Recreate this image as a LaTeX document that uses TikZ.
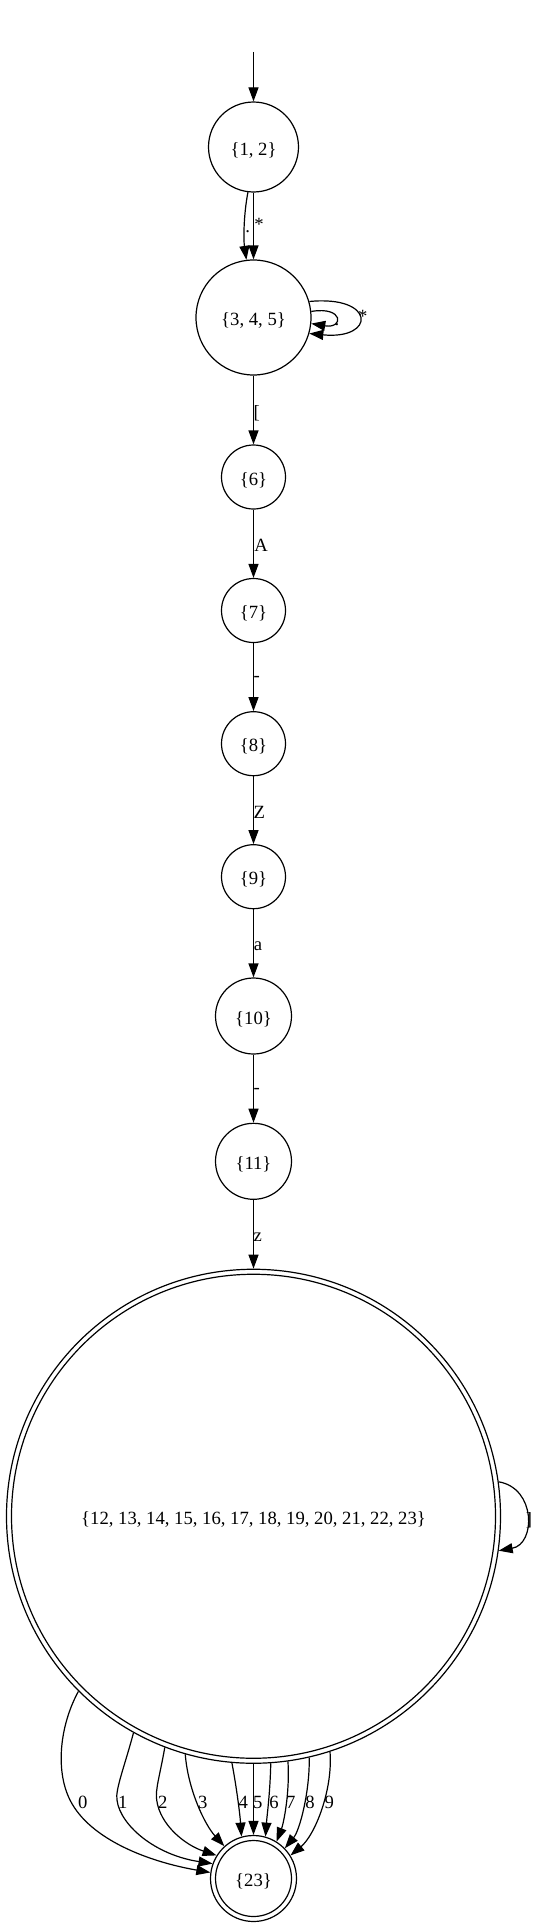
\documentclass[tikz,border=0pt]{standalone}
\usepackage{fontspec}
\setmainfont{Liberation Serif}
\usetikzlibrary{arrows.meta}
\begin{document}
\begin{tikzpicture}[x=0.75pt, y=-0.75pt, line width=0.9pt,
  state/.style={circle, draw, inner sep=0pt, text height=12pt, text depth=0pt, font=\fontsize{14}{16}\selectfont},
  accept/.style={state, path picture={\draw[line width=0.9pt] (path picture bounding box.center) circle[radius=#1];}},
  lbl/.style={inner sep=0pt, font=\fontsize{14}{16}\selectfont},
  >={Triangle[length=10.5pt, width=7.5pt]}]
\useasboundingbox (0,0) rectangle (537,1927);

% nodes
\coordinate (start) at (253.5,52);
\node[state, minimum size=67.5pt] (n12) at (253.5,147) {\{1, 2\}};
\node[state, minimum size=86.25pt] (n345) at (253.5,317.5) {\{3, 4, 5\}};
\node[state, minimum size=48pt] (n6) at (253.5,477) {\{6\}};
\node[state, minimum size=48pt] (n7) at (253.5,610.5) {\{7\}};
\node[state, minimum size=48pt] (n8) at (253.5,743.7) {\{8\}};
\node[state, minimum size=48pt] (n9) at (253.5,876.7) {\{9\}};
\node[state, minimum size=57pt] (n10) at (253.5,1016) {\{10\}};
\node[state, minimum size=57pt] (n11) at (253.5,1161.3) {\{11\}};
\node[accept=181.5pt, minimum size=370.5pt] (big) at (253.5,1516.25) {\{12, 13, 14, 15, 16, 17, 18, 19, 20, 21, 22, 23\}};
\node[accept=28.5pt, minimum size=64.5pt] (n23) at (253.5,1878.5) {\{23\}};

% edges
\draw[->] (start) -- (n12);
\draw[->] (n12.263) .. controls (243.5,215) and (243.5,240) .. (n345.97) node[lbl] at (247.7,231.7) {.};
\draw[->] (n12) -- (n345) node[lbl] at (259,224) {*};
\draw[->] (n345.6) .. controls (344,306) and (344,329) .. (n345.-6) node[lbl] at (337,325) {.};
\draw[->] (n345.16) .. controls (376,295) and (376,340) .. (n345.-16) node[lbl] at (362.7,316) {*};
\draw[->] (n345) -- (n6) node[lbl] at (256.7,413) {[};
\draw[->] (n6) -- (n7) node[lbl] at (261,545.7) {A};
\draw[->] (n7) -- (n8) node[lbl] at (256.7,679.3) {-};
\draw[->] (n8) -- (n9) node[lbl] at (259.3,812.7) {Z};
\draw[->] (n9) -- (n10) node[lbl] at (258,946) {a};
\draw[->] (n10) -- (n11) node[lbl] at (256.7,1090.7) {-};
\draw[->] (n11) -- (big) node[lbl] at (257.7,1237) {z};
\draw[->] (big.8.5) .. controls (536,1488) and (536,1544) .. (big.-8.5) node[lbl] at (529,1520.7) {]};

% digit edges
\draw[->] (big.225.3) .. controls (60,1725) and (55,1770) .. (70,1800) .. controls (90,1840) and (150,1862) .. (n23.172) node[lbl] at (82.7,1802) {0};
\draw[->] (big.241.5) .. controls (125,1765) and (115,1790) .. (117,1800) .. controls (120,1825) and (155,1855) .. (n23.160) node[lbl] at (122.7,1802) {1};
\draw[->] (big.249.5) .. controls (160,1775) and (155,1790) .. (156.7,1800) .. controls (160,1825) and (185,1845) .. (n23.148) node[lbl] at (162.7,1802) {2};
\draw[->] (big.254.5) .. controls (188,1790) and (205,1825) .. (n23.132) node[lbl] at (202.7,1802) {3};
\draw[->] (big.265.7) .. controls (237,1790) and (240,1815) .. (n23.106) node[lbl] at (243.3,1802) {4};
\draw[->] (big.270) -- (n23.90) node[lbl] at (257.7,1802) {5};
\draw[->] (big.274.2) .. controls (270,1795) and (267,1815) .. (n23.74) node[lbl] at (274,1802) {6};
\draw[->] (big.278.6) .. controls (290,1795) and (283,1825) .. (n23.58) node[lbl] at (290.7,1802) {7};
\draw[->] (big.283.6) .. controls (310,1790) and (300,1830) .. (n23.44) node[lbl] at (310,1802) {8};
\draw[->] (big.288.85) .. controls (333,1790) and (315,1835) .. (n23.32) node[lbl] at (329.3,1802) {9};
\end{tikzpicture}
\end{document}
